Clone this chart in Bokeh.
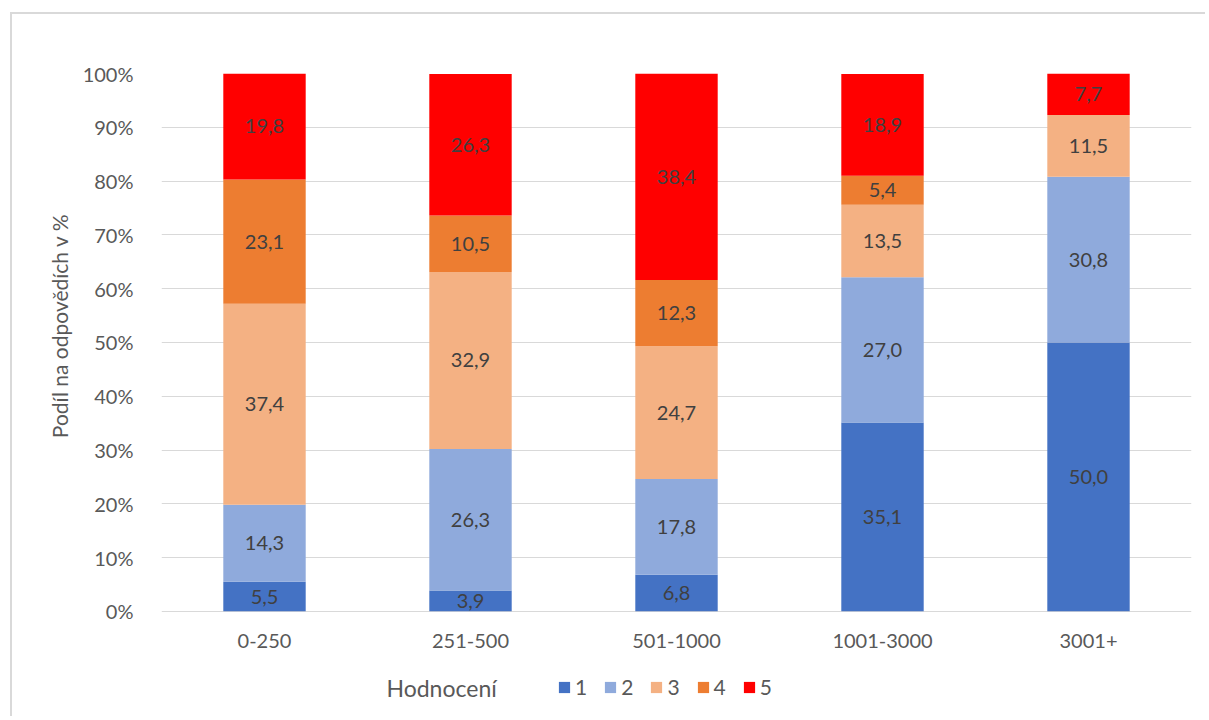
from bokeh.plotting import figure
from bokeh.models import ColumnDataSource, NumeralTickFormatter, FixedTicker, Legend, Label
from bokeh.core.properties import value
from bokeh.embed import file_html
from bokeh.resources import INLINE

categories = ["0-250", "251-500", "501-1000", "1001-3000", "3001+"]
series = ["1", "2", "3", "4", "5"]
s1 = [5.5, 3.9, 6.8, 35.1, 50.0]
s2 = [14.3, 26.3, 17.8, 27.0, 30.8]
s3 = [37.4, 32.9, 24.7, 13.5, 11.5]
s4 = [23.1, 10.5, 12.3, 5.4, 0.0]
s5 = [19.8, 26.3, 38.4, 18.9, 7.7]
colors = ["#4472C4", "#8FAADC", "#F4B183", "#ED7D31", "#FF0000"]
y_ticks = [i / 10 for i in range(11)]

FONT = "Lato"
FS = "20px"
TXT = "#595959"
data = {"cat": categories}
vals = [s1, s2, s3, s4, s5]
for name, v in zip(series, vals):
    data[name] = [x / 100.0 for x in v]
source = ColumnDataSource(data)

p = figure(x_range=categories, y_range=(-0.175, 1.0), width=1195, height=704,
           output_backend="svg", toolbar_location=None,
           title="Podíl na odpovědích v %", title_location="left",
           min_border_left=149, min_border_right=16, min_border_top=59, min_border_bottom=13)
p.outline_line_color = None
p.styles = {"border-left": "2px solid #d9d9d9", "border-top": "2px solid #d9d9d9",
            "margin-left": "10px", "margin-top": "12px"}

p.title.text_font = FONT
p.title.text_font_style = "normal"
p.title.text_font_size = "21px"
p.title.text_color = TXT
p.title.align = "right"
p.title.offset = 140
p.title.standoff = 16

renderers = p.vbar_stack(series, x="cat", width=0.4, color=colors, source=source,
                         line_color=None)

# value labels
lx, ly, lt = [], [], []
for i, c in enumerate(categories):
    cum = 0.0
    for v in vals:
        val = v[i]
        if val > 0:
            lx.append(c)
            ly.append((cum + val / 2) / 100.0)
            lt.append(f"{val:.1f}".replace(".", ","))
        cum += val
p.text(x=lx, y=ly, text=lt, text_align="center", text_baseline="middle",
       text_font=value(FONT), text_font_size=FS, text_color="#404040")

# category labels
p.text(x=categories, y=[0] * len(categories), text=categories, y_offset=30,
       text_align="center", text_baseline="middle",
       text_font=value(FONT), text_font_size=FS, text_color=TXT)

p.yaxis.ticker = FixedTicker(ticks=y_ticks)
p.yaxis.formatter = NumeralTickFormatter(format="0%")
p.yaxis.axis_line_color = None
p.yaxis.major_tick_line_color = None
p.yaxis.minor_tick_line_color = None
p.yaxis.major_label_text_font = FONT
p.yaxis.major_label_text_font_size = FS
p.yaxis.major_label_text_color = TXT
p.yaxis.major_label_standoff = 22

p.xaxis.visible = False
p.xgrid.grid_line_color = None
p.ygrid.grid_line_color = "#d9d9d9"
p.ygrid.grid_line_width = 1

lg = Legend(items=[(s, [r]) for s, r in zip(series, renderers)])
lg.orientation = "horizontal"
lg.location = (396, 6)
lg.margin = 0
lg.padding = 0
lg.spacing = 16
lg.glyph_width = 14
lg.glyph_height = 14
lg.label_width = 8
lg.label_standoff = 4
lg.label_text_font = FONT
lg.label_text_font_size = "21px"
lg.label_text_color = TXT
lg.border_line_color = None
lg.background_fill_alpha = 0
p.add_layout(lg, "center")

p.add_layout(Label(x=225, y=18, x_units="screen", y_units="screen", text="Hodnocení",
                   text_font=FONT, text_font_size="23px", text_color=TXT,
                   text_baseline="middle"))

open("out.html", "w").write(file_html(p, INLINE))
